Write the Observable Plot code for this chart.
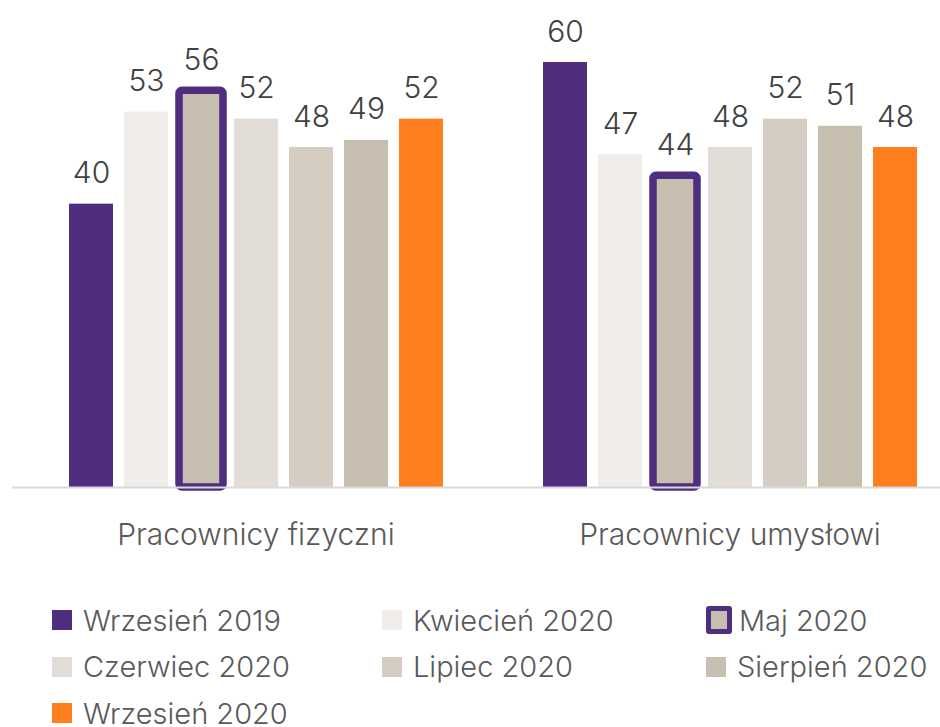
<!DOCTYPE html>
<html>
<head>
<meta charset="utf-8">
<script src="https://cdn.jsdelivr.net/npm/d3@7"></script>
<script src="https://cdn.jsdelivr.net/npm/@observablehq/plot@0.6"></script>
<style>
  body { margin: 0; background: #fff; font-family: Inter, Lato, "Noto Sans", sans-serif; font-weight: 300; }
  #chart svg { display: block; }
  #legend { display: grid; grid-template-columns: 330px 324px auto; padding: 27px 0 0 52px; row-gap: 0; }
  .item { display: flex; align-items: center; height: 46.5px; font-size: 29px; color: #595959; font-weight: 300; white-space: nowrap; }
  .sw { width: 20px; height: 20px; margin-right: 11px; box-sizing: border-box; flex: none; }
  .sw.hl { width: 26px; height: 28px; border: 5px solid #4f2d7f; border-radius: 3px; margin-right: 7px; }
</style>
</head>
<body>
<div id="chart"></div>
<div id="legend"></div>
<script>
const groups = ["Pracownicy fizyczni", "Pracownicy umysłowi"];
const series = ["Wrzesień 2019", "Kwiecień 2020", "Maj 2020", "Czerwiec 2020", "Lipiec 2020", "Sierpień 2020", "Wrzesień 2020"];
const fizyczni = [40, 53, 56, 52, 48, 49, 52];
const umyslowi = [60, 47, 44, 48, 52, 51, 48];
const colors = ["#4f2d7f", "#f0edea", "#c8beaf", "#e2ddd6", "#d5cdc1", "#c8beaf", "#ff7f1e"];
const highlighted = "Maj 2020";
const highlightStroke = "#4f2d7f";

const data = [];
[fizyczni, umyslowi].forEach((vals, gi) => {
  vals.forEach((v, si) => data.push({group: groups[gi], series: series[si], value: v}));
});

const chart = Plot.plot({
  width: 940,
  height: 570,
  marginTop: 62,
  marginBottom: 83,
  marginLeft: 55,
  marginRight: 9.5,
  style: {fontFamily: "Inter, Lato, 'Noto Sans', sans-serif", fontSize: "30px", fontWeight: 300, background: "white", overflow: "visible"},
  fx: {domain: groups, paddingInner: 0.153, paddingOuter: 0, label: null, axis: "bottom", tickSize: 0, tickPadding: 36},
  x: {domain: series, padding: 0.2, axis: null},
  y: {domain: [0, 60], axis: null},
  color: {domain: series, range: colors},
  marks: [
    Plot.barY(data.filter(d => d.series !== highlighted), {fx: "group", x: "series", y: "value", fill: "series"}),
    Plot.barY(data.filter(d => d.series === highlighted), {fx: "group", x: "series", y: "value", fill: "series", stroke: highlightStroke, strokeWidth: 7.5, rx: 3}),
    Plot.ruleY([{group: groups[0]}], {fx: "group", y: () => 0, stroke: "#d9d9d9", strokeWidth: 2, insetLeft: -43, insetRight: -75}),
    Plot.ruleY([{group: groups[1]}], {fx: "group", y: () => 0, stroke: "#d9d9d9", strokeWidth: 2, insetRight: -12}),
    Plot.text(data, {fx: "group", x: "series", y: "value", text: d => String(d.value), dy: -21, lineAnchor: "bottom", fill: "#404040", fontSize: 30, fontWeight: 300})
  ]
});
chart.querySelectorAll("[aria-label='fx-axis'] text, g[aria-label^='fx-axis'] text").forEach(t => t.setAttribute("fill", "#595959"));
document.getElementById("chart").append(chart);

const legend = document.getElementById("legend");
series.forEach((s, i) => {
  const item = document.createElement("div");
  item.className = "item";
  const sw = document.createElement("span");
  sw.className = "sw" + (s === highlighted ? " hl" : "");
  sw.style.background = colors[i];
  item.append(sw);
  const t = document.createElement("span");
  t.textContent = s;
  item.append(t);
  legend.append(item);
});
</script>
</body>
</html>
